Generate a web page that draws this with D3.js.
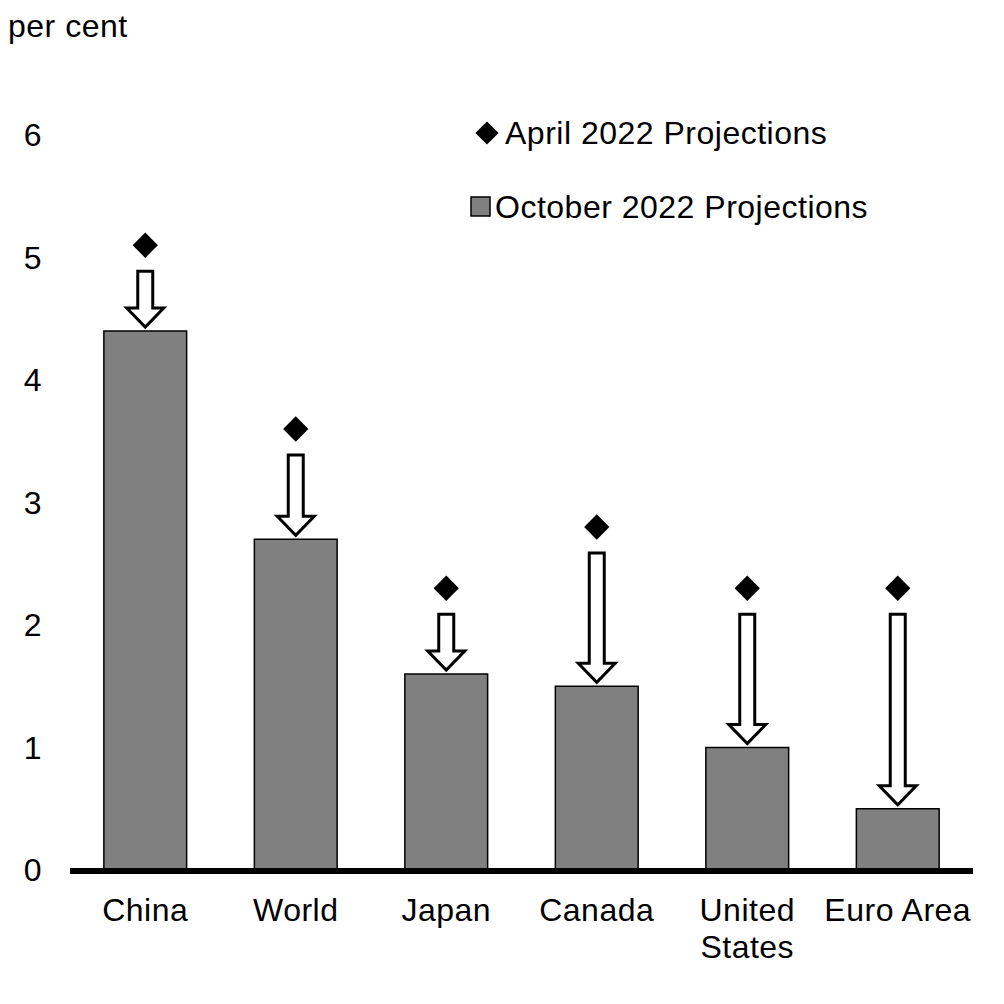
<!DOCTYPE html>
<html>
<head>
<meta charset="utf-8">
<script src="https://cdn.jsdelivr.net/npm/d3@7"></script>
<style>
  body { margin: 0; background: #fff; }
  text { font-family: "Liberation Sans", Arial, sans-serif; fill: #000; letter-spacing: 0.5px; }
</style>
</head>
<body>
<svg id="chart" width="1004" height="1004"></svg>
<script>
// chart values
const categories = ['China', 'World', 'Japan', 'Canada', 'United States', 'Euro Area'];
const aprilValues = [5.1, 3.6, 2.3, 2.8, 2.3, 2.3];
const octoberValues = [4.4, 2.7, 1.6, 1.5, 1.0, 0.5];
const yTicks = [0, 1, 2, 3, 4, 5, 6];
const seriesNames = ['April 2022 Projections', 'October 2022 Projections'];

const svg = d3.select('#chart');
const fs = 32;

// y: 0 sits on the axis line, 6 near the top
let y = d3.scaleLinear().domain([0, 6]).range([870, 135]);
let x = d3.scaleBand().domain(categories).range([70, 973]).paddingInner(0.45).paddingOuter(0.225);

let rows = categories.map(function (c, i) {
  return { name: c, april: aprilValues[i], october: octoberValues[i] };
});

// per cent label
svg.append('text')
    .attr('x', 8)
    .attr('y', 37)
    .attr('font-size', fs)
    .text('per cent');

// y tick labels
svg.selectAll('.ytick')
    .data(yTicks)
    .enter().append('text')
    .attr('class', 'ytick')
    .attr('x', 33)
    .attr('y', d => y(d) + 11)
    .attr('text-anchor', 'middle')
    .attr('font-size', fs)
    .text(d => d);

// bars
svg.selectAll('.bar')
    .data(rows)
    .enter().append('rect')
    .attr('class', 'bar')
    .attr('x', d => x(d.name))
    .attr('y', d => y(d.october))
    .attr('width', x.bandwidth())
    .attr('height', d => y(0) - y(d.october))
    .attr('fill', '#808080')
    .attr('stroke', '#000')
    .attr('stroke-width', 1.5);

// arrows from april marker down to october bar
let arrow = function (d) {
  let cx = x(d.name) + x.bandwidth() / 2;
  let top = y(d.april) + 26;
  let tip = y(d.october) - 4;
  let headY = tip - 19;
  let sw = 7.5, hw = 18.5;
  return 'M' + (cx - sw) + ',' + top +
    'L' + (cx + sw) + ',' + top +
    'L' + (cx + sw) + ',' + headY +
    'L' + (cx + hw) + ',' + headY +
    'L' + cx + ',' + tip +
    'L' + (cx - hw) + ',' + headY +
    'L' + (cx - sw) + ',' + headY + 'Z';
};

svg.selectAll('.arrow')
    .data(rows)
    .enter().append('path')
    .attr('class', 'arrow')
    .attr('d', arrow)
    .attr('fill', '#fff')
    .attr('stroke', '#000')
    .attr('stroke-width', 3)
    .attr('stroke-linejoin', 'miter');

// april diamonds
let diamond = d3.symbol().type(d3.symbolSquare).size(320);
svg.selectAll('.dot')
    .data(rows)
    .enter().append('path')
    .attr('class', 'dot')
    .attr('d', diamond)
    .attr('transform', d => 'translate(' + (x(d.name) + x.bandwidth() / 2) + ',' + y(d.april) + ') rotate(45)')
    .attr('fill', '#000');

// axis line
svg.append('line')
    .attr('x1', 70)
    .attr('x2', 973)
    .attr('y1', y(0) + 1)
    .attr('y2', y(0) + 1)
    .attr('stroke', '#000')
    .attr('stroke-width', 6);

// category labels
svg.selectAll('.xlab')
    .data(categories)
    .enter().append('text')
    .attr('class', 'xlab')
    .attr('x', d => x(d) + x.bandwidth() / 2)
    .attr('y', 921)
    .attr('text-anchor', 'middle')
    .attr('font-size', fs)
    .each(function (d) {
      let words = d === 'United States' ? ['United', 'States'] : [d];
      d3.select(this).selectAll('tspan')
        .data(words)
        .enter().append('tspan')
        .attr('x', x(d) + x.bandwidth() / 2)
        .attr('dy', (w, i) => i === 0 ? 0 : 37)
        .text(w => w);
    });

// legend
svg.append('path')
    .attr('d', d3.symbol().type(d3.symbolSquare).size(270))
    .attr('transform', 'translate(487,133) rotate(45)')
    .attr('fill', '#000');
svg.append('text')
    .attr('x', 505)
    .attr('y', 144)
    .attr('font-size', fs)
    .text(seriesNames[0]);

svg.append('rect')
    .attr('x', 471)
    .attr('y', 197)
    .attr('width', 19)
    .attr('height', 19)
    .attr('fill', '#808080')
    .attr('stroke', '#000')
    .attr('stroke-width', 1.5);
svg.append('text')
    .attr('x', 495)
    .attr('y', 218)
    .attr('font-size', fs)
    .text(seriesNames[1]);
</script>
</body>
</html>
